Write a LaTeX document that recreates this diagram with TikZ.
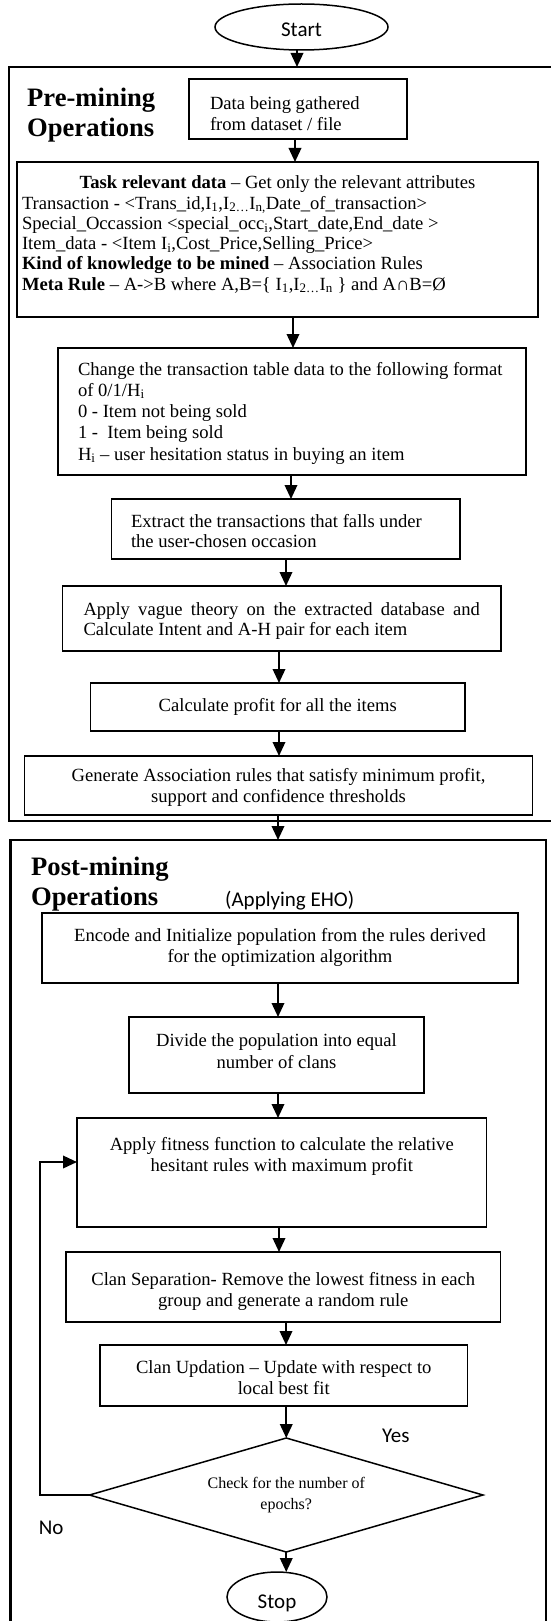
\documentclass[tikz,border=0pt]{standalone}
\usepackage{fontspec}
\setmainfont{Liberation Serif}
\newfontfamily\calib{Carlito}
\usetikzlibrary{arrows.meta,shapes.geometric}
% #1 width, #2 height, #3 top space, #4 baselineskip, #5 alignment, #6 text
\newcommand\boxtext[6]{\parbox[c][#2pt][t]{#1pt}{\fontsize{18.6}{#4}\selectfont\lineskiplimit=-100pt\lineskip=0pt\vspace*{#3pt}#5\rule{0pt}{14pt}#6}}
\newcommand\headfont{\fontsize{26.6}{30}\selectfont\bfseries}
\tikzset{
  bx/.style={draw, line width=1.8pt, inner sep=0pt, outer sep=0pt, anchor=north west},
  outerbox/.style={draw, line width=2.2pt, inner sep=0pt, outer sep=0pt, anchor=north west},
  arr/.style={line width=2pt, -{Triangle[width=12.5pt,length=14pt]}},
  term/.style={draw, ellipse, line width=1.5pt, inner sep=0pt, outer sep=0pt, font=\calib\fontsize{21}{25}\selectfont},
  calibtext/.style={anchor=base west, inner sep=0pt, font=\calib\fontsize{21}{25}\selectfont},
  headlab/.style={anchor=base west, inner sep=0pt},
}
\begin{document}
\begin{tikzpicture}[x=1pt,y=-1pt]
\useasboundingbox (0,0) rectangle (550,1621);
% outer groups
\node[outerbox, minimum width=570pt, minimum height=754pt] (pre) at (9,67) {};
\node[outerbox, minimum width=535.5pt, minimum height=800pt] (post) at (10.5,840) {};
% terminals
\node[term, minimum width=173pt, minimum height=46pt, text height=20pt, text depth=0pt] (start) at (301.5,27) {Start};
\node[term, minimum width=100pt, minimum height=50pt, text height=22pt, text depth=0pt] (stop) at (277,1597) {Stop};
% headings
\node[headlab] (prelab) at (27,107) {\parbox[t]{200pt}{\headfont Pre-mining\\Operations}};
\node[headlab] (postlab) at (31,875) {\parbox[t]{200pt}{\headfont Post-mining\\Operations}};
\node[calibtext] (eho) at (225,906) {(Applying EHO)};
% pre-mining boxes
\node[bx] (data) at (189,79) {\boxtext{218}{60}{17}{21}{\leftskip=21pt}{Data being gathered\\from dataset / file}};
\node[bx] (task) at (17,162) {\boxtext{521}{155}{13}{20.2}{\leftskip=5pt}{\makebox[511pt][c]{\textbf{Task relevant data} -- Get only the relevant attributes}\\
Transaction - <Trans\_id,I\textsubscript{1},I\textsubscript{2…}I\textsubscript{n,}Date\_of\_transaction>\\
Special\_Occassion <special\_occ\textsubscript{i},Start\_date,End\_date >\\
Item\_data - <Item I\textsubscript{i},Cost\_Price,Selling\_Price>\\
\textbf{Kind of knowledge to be mined} -- Association Rules\\
\textbf{Meta Rule} -- A->B where A,B=\{ I\textsubscript{1},I\textsubscript{2…}I\textsubscript{n} \} and A∩B=Ø}};
\node[bx] (change) at (58,348) {\boxtext{468}{127}{13}{21.3}{\leftskip=20pt}{Change the transaction table data to the following format\\
of 0/1/H\textsubscript{i}\\
0 - Item not being sold\\
1 -\ \ Item being sold\\
H\textsubscript{i} -- user hesitation status in buying an item}};
\node[bx] (extract) at (111.5,499) {\boxtext{348.5}{60}{14}{20.8}{\leftskip=19.5pt}{Extract the transactions that falls under\\the user-chosen occasion}};
\node[bx] (apply) at (62.5,586) {\boxtext{438.5}{65}{15}{20.8}{\leftskip=21pt}{\makebox[396.5pt][s]{Apply vague theory on the extracted database and}\\Calculate Intent and A-H pair for each item}};
\node[bx] (calc) at (90.5,683) {\boxtext{374.5}{48}{14}{21}{\centering}{Calculate profit for all the items}};
\node[bx] (gen) at (24.5,756) {\boxtext{508}{59}{11.5}{21}{\centering}{Generate Association rules that satisfy minimum profit,\\support and confidence thresholds}};
% post-mining boxes
\node[bx] (encode) at (42,913) {\boxtext{476}{70}{14.5}{21.3}{\centering}{Encode and Initialize population from the rules derived\\for the optimization algorithm}};
\node[bx] (divide) at (129,1017) {\boxtext{295}{76}{15}{22}{\centering}{Divide the population into equal\\number of clans}};
\node[bx] (fit) at (77,1118) {\boxtext{409.5}{109}{18}{21.7}{\centering}{Apply fitness function to calculate the relative\\hesitant rules with maximum profit}};
\node[bx] (sep) at (66,1252) {\boxtext{434.5}{70}{19}{21.7}{\centering}{Clan Separation- Remove the lowest fitness in each\\group and generate a random rule}};
\node[bx] (upd) at (100,1345) {\boxtext{367.5}{61}{14}{21}{\centering}{Clan Updation -- Update with respect to\\local best fit}};
\node[draw, diamond, shape aspect=3.45, line width=1.5pt, inner sep=0pt, outer sep=0pt, minimum width=393.5pt, minimum height=114pt, align=center, font=\fontsize{16}{21.7}\selectfont] (dia) at (286.25,1495) {Check for the number of\\epochs?};
\node[calibtext] (yes) at (382,1442) {Yes};
\node[calibtext] (no) at (38.6,1534.5) {No};
% arrow x positions
\coordinate (a0) at (297,0);
\coordinate (a1) at (295,0);
\coordinate (a3) at (293,0);
\coordinate (a4) at (291,0);
\coordinate (a5) at (286,0);
\coordinate (a6) at (279,0);
\coordinate (a8) at (278,0);
\coordinate (fbx) at (40,0);
\coordinate (fbin) at (0,1162);
% connectors
\draw[arr] (start.south -| a0) -- (pre.north -| a0);
\draw[arr] (data.south -| a1) -- (task.north -| a1);
\draw[arr] (task.south -| a3) -- (change.north -| a3);
\draw[arr] (change.south -| a4) -- (extract.north -| a4);
\draw[arr] (extract.south -| a5) -- (apply.north -| a5);
\draw[arr] (apply.south -| a6) -- (calc.north -| a6);
\draw[arr] (calc.south -| a6) -- (gen.north -| a6);
\draw[arr] (gen.south -| a8) -- (post.north -| a8);
\draw[arr] (encode.south -| a8) -- (divide.north -| a8);
\draw[arr] (divide.south -| a8) -- (fit.north -| a8);
\draw[arr] (fit.south -| a6) -- (sep.north -| a6);
\draw[arr] (sep.south -| a5) -- (upd.north -| a5);
\draw[arr] (upd.south -| dia.north) -- (dia.north);
\draw[arr] (dia.south) -- (stop.north -| dia.south);
\draw[arr] (dia.west) -- (dia.west -| fbx) |- (fit.west |- fbin);
\end{tikzpicture}
\end{document}
